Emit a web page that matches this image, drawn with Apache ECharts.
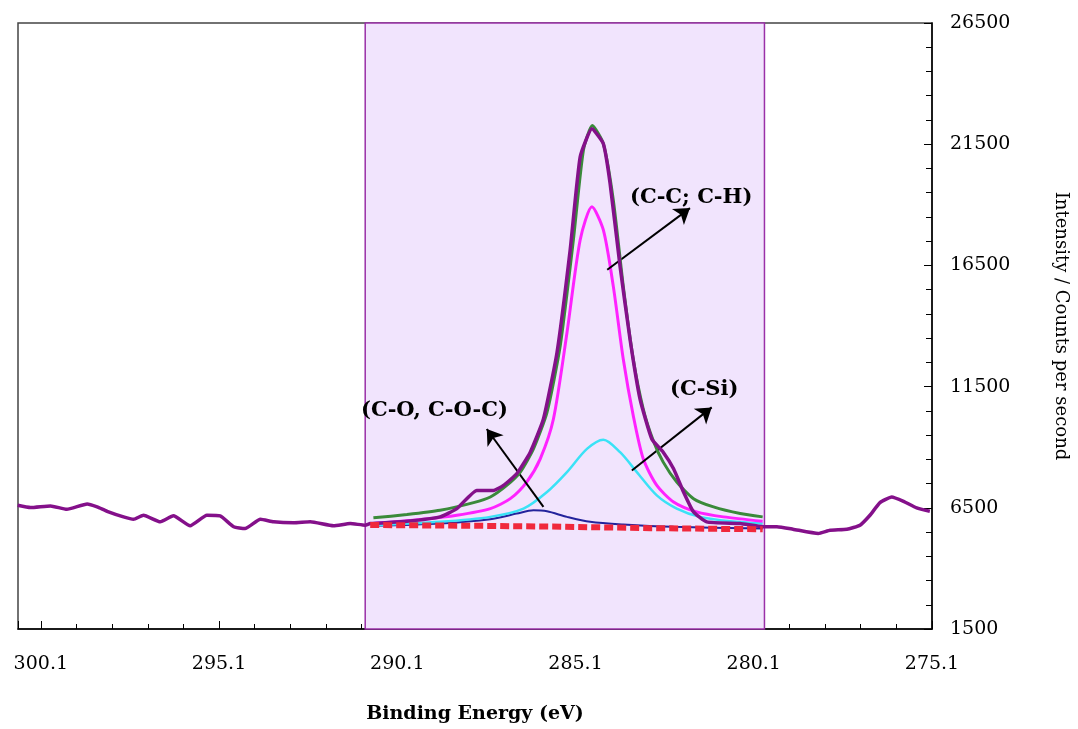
<!DOCTYPE html>
<html>
<head>
<meta charset="utf-8">
<script src="https://cdn.jsdelivr.net/npm/echarts@6/dist/echarts.min.js"></script>
<style>
  html, body { margin: 0; padding: 0; background: #fff; }
  #main { width: 1078px; height: 729px; }
</style>
</head>
<body>
<div id="main"></div>
<script>
// axis ticks
var xTicks = [300.1, 295.1, 290.1, 285.1, 280.1, 275.1];
var yTicks = [1500, 6500, 11500, 16500, 21500, 26500];

// measured spectrum [binding energy, counts]
var measured = [
  [300.75, 6602], [300.39, 6508], [299.83, 6578], [299.37, 6438], [298.80, 6660],
  [298.52, 6537], [298.24, 6356], [297.78, 6126], [297.50, 6028], [297.22, 6192],
  [296.75, 5921], [296.38, 6167], [295.91, 5757], [295.44, 6192], [295.07, 6167],
  [294.69, 5716], [294.37, 5646], [293.94, 6028], [293.57, 5921], [293.01, 5880],
  [292.54, 5921], [291.89, 5757], [291.42, 5851], [291.00, 5782], [290.86, 5851],
  [289.83, 5946], [288.90, 6126], [288.43, 6467], [287.87, 7218], [287.40, 7218],
  [287.12, 7424], [286.75, 7904], [286.37, 8795], [286.00, 10162], [285.62, 12900],
  [285.25, 17140], [284.97, 20970], [284.64, 22136], [284.32, 21520], [284.13, 19878],
  [283.85, 16455], [283.57, 13446], [283.29, 10983], [282.96, 9341], [282.64, 8795],
  [282.35, 8109], [282.07, 7153], [281.79, 6332], [281.42, 5921], [280.48, 5851],
  [279.83, 5716], [279.45, 5716], [279.00, 5617], [278.29, 5441], [277.96, 5576],
  [277.49, 5617], [277.12, 5782], [276.84, 6192], [276.56, 6713], [276.23, 6947],
  [275.90, 6767], [275.53, 6496], [275.16, 6356]
];

// fitted envelope
var envelope = [
  [290.77, 6085], [289.83, 6221], [288.90, 6397], [287.96, 6713], [287.49, 6947],
  [287.03, 7424], [286.65, 7974], [286.28, 8930], [285.90, 10437], [285.53, 13171],
  [285.16, 17551], [284.88, 21245], [284.63, 22271], [284.32, 21520], [284.04, 19193],
  [283.76, 15634], [283.48, 12625], [283.20, 10572], [282.92, 9271], [282.64, 8384],
  [282.26, 7563], [281.79, 6878], [281.23, 6537], [280.48, 6262], [279.85, 6126]
];

// C-C; C-H component
var peakCC = [
  [290.77, 5851], [289.37, 6028], [288.43, 6192], [287.49, 6467], [286.93, 6878],
  [286.47, 7563], [286.09, 8520], [285.72, 10162], [285.34, 13721], [284.97, 17551],
  [284.64, 18918], [284.32, 17961], [284.04, 15634], [283.76, 12625], [283.48, 10297],
  [283.20, 8520], [282.82, 7424], [282.35, 6742], [281.70, 6332], [280.95, 6126],
  [279.85, 5946]
];

// C-Si component
var peakCSi = [
  [290.77, 5782], [288.90, 5921], [287.49, 6126], [286.56, 6467], [285.90, 7153],
  [285.34, 7974], [284.78, 8930], [284.32, 9312], [283.85, 8795], [283.38, 7974],
  [282.82, 7013], [282.26, 6467], [281.61, 6126], [280.76, 5946], [279.85, 5851]
];

// C-O, C-O-C component
var peakCO = [
  [290.77, 5757], [288.90, 5851], [287.49, 6028], [286.75, 6262], [286.28, 6397],
  [285.90, 6356], [285.34, 6126], [284.69, 5921], [283.76, 5810], [282.35, 5716],
  [279.85, 5646]
];

// background
var baseline = [
  [290.86, 5790], [288.00, 5760], [285.50, 5720], [283.00, 5660], [281.00, 5630],
  [279.85, 5617]
];

// fitting window
var fitRange = [291.0, 279.8];

// annotation arrows [from, to]
var arrows = [
  [[284.21, 16319], [281.89, 18864]],
  [[283.52, 8039], [281.28, 10642]],
  [[286.00, 6537], [287.59, 9751]]
];

var serif = '"DejaVu Serif", "Liberation Serif", serif';

function lineSeries(name, data, color, width, z, smooth) {
  return {
    name: name,
    type: 'line',
    data: data,
    symbol: 'none',
    smooth: smooth,
    z: z,
    lineStyle: { color: color, width: width },
    animation: false
  };
}

var chart = echarts.init(document.getElementById('main'));

var series = [
  lineSeries('C-O', peakCO, '#23239c', 2, 3, 0.3),
  lineSeries('C-Si', peakCSi, '#3ae2f6', 2.5, 3, 0.3),
  lineSeries('C-C', peakCC, '#ff22ff', 3, 4, 0.25),
  lineSeries('Envelope', envelope, '#3a8a3a', 3, 5, 0.2),
  lineSeries('Measured', measured, '#84108a', 3.5, 6, 0.15),
  {
    name: 'Background',
    type: 'line',
    data: baseline,
    symbol: 'none',
    z: 7,
    lineStyle: { color: '#f0283c', width: 6, type: [9, 4] },
    animation: false
  }
];

// purple window + arrows on the first series
series[0].markArea = {
  silent: true,
  itemStyle: { color: '#f1e4fd', borderColor: '#9a30a8', borderWidth: 1.5 },
  data: [[{ xAxis: fitRange[0] }, { xAxis: fitRange[1] }]]
};
series[0].markLine = {
  silent: true,
  symbol: ['none', 'arrow'],
  symbolSize: 15,
  lineStyle: { color: '#000', width: 2, type: 'solid' },
  label: { show: false },
  data: arrows.map(function (a) {
    return [{ coord: a[0] }, { coord: a[1] }];
  })
};

chart.setOption({
  animation: false,
  grid: {
    left: 18, right: 146, top: 23, bottom: 98,
    show: true, borderColor: '#444', borderWidth: 1.5
  },
  xAxis: {
    type: 'value',
    inverse: true,
    min: 275.1,
    max: 300.74,
    interval: 5,
    name: 'Binding Energy (eV)',
    nameLocation: 'middle',
    nameGap: 76,
    nameTextStyle: { fontFamily: serif, fontWeight: 'bold', fontSize: 19, color: '#000' },
    axisLine: { lineStyle: { color: '#000', width: 1.5 } },
    axisTick: { inside: true, length: 8, lineStyle: { color: '#000' } },
    minorTick: { show: true, splitNumber: 5, length: 5, lineStyle: { color: '#000' } },
    splitLine: { show: false },
    axisLabel: {
      margin: 26,
      fontFamily: serif, fontSize: 19, color: '#000',
      formatter: function (v) {
        for (var i = 0; i < xTicks.length; i++) {
          if (Math.abs(v - xTicks[i]) < 1e-6) return xTicks[i].toFixed(1);
        }
        return '';
      }
    }
  },
  yAxis: {
    type: 'value',
    position: 'right',
    min: yTicks[0],
    max: yTicks[yTicks.length - 1],
    interval: 5000,
    name: 'Intensity / Counts per second',
    nameLocation: 'middle',
    nameRotate: -90,
    nameGap: 120,
    nameTextStyle: { fontFamily: serif, fontSize: 18, color: '#000' },
    axisLine: { show: true, lineStyle: { color: '#000', width: 1.5 } },
    axisTick: { inside: true, length: 8, lineStyle: { color: '#000' } },
    minorTick: { show: true, splitNumber: 5, length: 6, lineStyle: { color: '#000' } },
    splitLine: { show: false },
    axisLabel: {
      margin: 18, fontFamily: serif, fontSize: 19, color: '#000',
      formatter: function (v) { return String(v); }
    }
  },
  graphic: [
    { type: 'text', left: 630, top: 187, z: 100,
      style: { text: '(C-C; C-H)', font: 'bold 21px ' + serif, fill: '#000' } },
    { type: 'text', left: 670, top: 379, z: 100,
      style: { text: '(C-Si)', font: 'bold 21px ' + serif, fill: '#000' } },
    { type: 'text', left: 361, top: 400, z: 100,
      style: { text: '(C-O, C-O-C)', font: 'bold 21px ' + serif, fill: '#000' } }
  ],
  series: series
});
</script>
</body>
</html>
